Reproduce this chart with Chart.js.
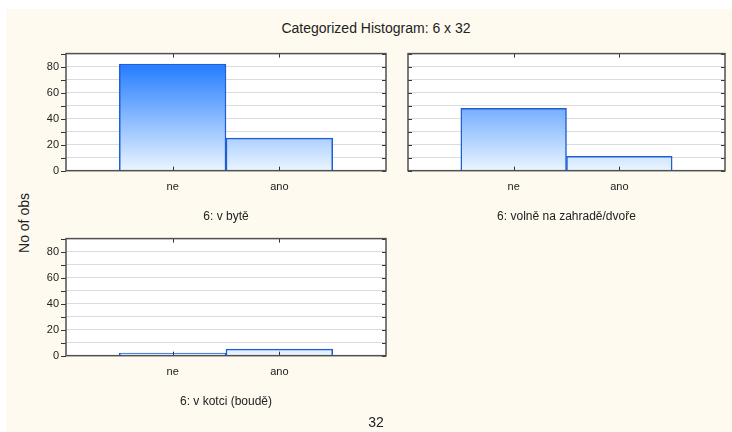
<!DOCTYPE html>
<html>
<head>
<meta charset="utf-8">
<script src="https://cdn.jsdelivr.net/npm/chart.js@4/dist/chart.umd.min.js"></script>
<style>
  body { margin: 0; background: #fff; width: 732px; height: 432px; overflow: hidden; position: relative; font-family: "Liberation Sans", Arial, sans-serif; }
  #paper { position: absolute; left: 6px; top: 9px; width: 726px; height: 423px; background: #fffaf0; }
  canvas { position: absolute; }
  .txt { position: absolute; color: #222; white-space: nowrap; line-height: 1; }
</style>
</head>
<body>
<div id="paper"></div>
<div class="txt" style="left:376px; top:27.5px; font-size:14px; transform: translate(-50%,-50%);">Categorized Histogram: 6 x 32</div>
<div class="txt" style="left:24px; top:223px; font-size:14px; transform: translate(-50%,-50%) rotate(-90deg);">No of obs</div>
<canvas id="c1" width="400" height="195" style="left:0; top:40px;"></canvas>
<canvas id="c2" width="390" height="195" style="left:342px; top:40px;"></canvas>
<canvas id="c3" width="400" height="195" style="left:0; top:225px;"></canvas>
<div class="txt" style="left:376px; top:421.5px; font-size:14px; transform: translate(-50%,-50%);">32</div>
<script>
// categories and counts per panel
const categories = ['ne', 'ano'];
const panelTitles = ['6: v bytě', '6: volně na zahradě/dvoře', '6: v kotci (boudě)'];
const countsByt = [82, 25];
const countsZahrada = [48, 11];
const countsKotec = [2, 5];
const yMax = 90;
const yStep = 10;
const yLabelStep = 20;

Chart.defaults.font.family = '"Liberation Sans", Arial, sans-serif';
Chart.defaults.font.size = 11;
Chart.defaults.color = '#222';

// white plot area, frame and the small inner tick marks
const framePlugin = {
    id: 'frame',
    beforeDraw(chart) {
        const { ctx, chartArea: a } = chart;
        ctx.save();
        ctx.fillStyle = '#fff';
        ctx.fillRect(a.left, a.top, a.right - a.left, a.bottom - a.top);
        ctx.restore();
    },
    afterDraw(chart, args, opts) {
        const { ctx, chartArea: a, scales: { x, y } } = chart;
        ctx.save();
        ctx.strokeStyle = '#333';
        ctx.lineWidth = 1;
        ctx.beginPath();
        y.ticks.forEach(t => {
            const py = Math.round(y.getPixelForValue(t.value)) + 0.5;
            if (opts.outside) { ctx.moveTo(a.left - 5, py); ctx.lineTo(a.left, py); }
            else { ctx.moveTo(a.left, py); ctx.lineTo(a.left + 4, py); }
            ctx.moveTo(a.right - 4, py); ctx.lineTo(a.right, py);
        });
        categories.forEach((c, i) => {
            const px = Math.round(x.getPixelForValue(i + 1)) + 0.5;
            ctx.moveTo(px, a.top); ctx.lineTo(px, a.top + 4);
            ctx.moveTo(px, a.bottom - 4); ctx.lineTo(px, a.bottom);
        });
        ctx.stroke();
        ctx.strokeStyle = '#505050';
        ctx.lineWidth = 1.5;
        ctx.strokeRect(a.left, a.top, a.right - a.left, a.bottom - a.top);
        ctx.restore();
    }
};

function barFill(context) {
    const a = context.chart.chartArea;
    if (!a) return '#6aaaff';
    const g = context.chart.ctx.createLinearGradient(0, a.top, 0, a.bottom);
    g.addColorStop(0, '#1070ff');
    g.addColorStop(1, '#eaf5ff');
    return g;
}

function makePanel(id, counts, title, opts) {
    new Chart(document.getElementById(id), {
        type: 'bar',
        data: {
            datasets: [{
                data: counts.map((v, i) => ({ x: i + 1, y: v })),
                backgroundColor: barFill,
                borderColor: '#1f5fd4',
                borderWidth: 1.5,
                barPercentage: 1,
                categoryPercentage: 1
            }]
        },
        options: {
            responsive: false,
            animation: false,
            layout: { padding: { left: 0, top: opts.top, right: opts.right, bottom: 0 } },
            plugins: { legend: { display: false }, tooltip: { enabled: false }, frame: { outside: opts.labels } },
            scales: {
                x: {
                    type: 'linear', min: 0, max: categories.length + 1, offset: false,
                    grid: { display: false }, border: { display: false },
                    ticks: { stepSize: 1, autoSkip: false, maxRotation: 0, padding: 2,
                        callback: v => categories[v - 1] || '' },
                    title: { display: true, text: title, color: '#222', font: { size: 12 }, padding: { top: 0, bottom: 11 } },
                    afterFit: s => { s.height = 195 - 130.67; }
                },
                y: {
                    min: 0, max: yMax,
                    grid: { color: '#dcdcdc', lineWidth: 1, drawTicks: false },
                    border: { display: false },
                    ticks: { stepSize: yStep, autoSkip: false, padding: 7,
                        callback: v => (opts.labels && v % yLabelStep === 0) ? v : '' },
                    afterFit: s => { s.width = 66; }
                }
            }
        },
        plugins: [framePlugin]
    });
}

makePanel('c1', countsByt, panelTitles[0], { top: 12, right: 14, labels: true });
makePanel('c2', countsZahrada, panelTitles[1], { top: 12, right: 7, labels: false });
makePanel('c3', countsKotec, panelTitles[2], { top: 11.67, right: 14, labels: true });
</script>
</body>
</html>
